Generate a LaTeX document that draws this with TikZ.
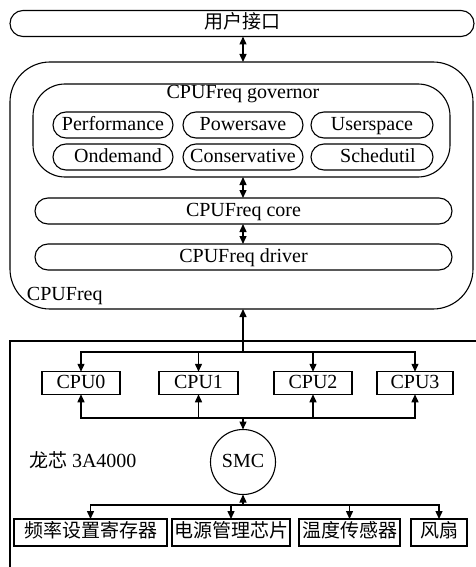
\documentclass[tikz,border=0pt]{standalone}
\usepackage{fontspec}
\setmainfont{Liberation Serif}
\newfontfamily\cjk{Noto Sans CJK SC}
\usetikzlibrary{arrows.meta}
\newcommand\cjkt[1]{{\cjk\fontsize{19}{23}\selectfont #1}}
\begin{document}
\begin{tikzpicture}[x=1pt,y=-1pt,
  every node/.style={inner sep=0pt, outer sep=0pt, font=\fontsize{20}{23}\selectfont, text height=13pt, text depth=3pt},
  box/.style={draw, line width=1.1pt},
  pill/.style={box, rounded corners=13pt, minimum height=26pt},
  conn/.style={line width=1.4pt},
  >={Triangle[length=8pt,width=7pt]}]
\useasboundingbox (0,0) rectangle (475,567);
% top layer
\node[pill, minimum width=464pt] (ui) at (242,23.5) {\cjkt{用户接口}};
\node[box, rounded corners=40pt, minimum width=463pt, minimum height=247pt] (cf) at (241.5,185.5) {};
\node[box, rounded corners=32pt, minimum width=417pt, minimum height=93pt] (gov) at (241.5,130.5) {};
\node[anchor=base] (govl) at (243,99) {CPUFreq governor};
\node[pill, minimum width=120pt] (perf) at (113,125) {Performance};
\node[pill, minimum width=120pt] (pow) at (243,125) {Powersave};
\node[pill, minimum width=122pt] (user) at (372,125) {Userspace};
\node[pill, minimum width=120pt] (ond) at (113,157) {\hspace*{10pt}Ondemand};
\node[pill, minimum width=120pt] (cons) at (243,157) {Conservative};
\node[pill, minimum width=122pt] (sched) at (372,157) {\hspace*{12pt}Schedutil};
\node[pill, minimum width=417pt] (core) at (243.5,211) {CPUFreq core};
\node[pill, minimum width=417pt] (drv) at (243.5,257) {CPUFreq driver};
\node[anchor=base west] (cfl) at (27,300) {CPUFreq};
% lower frame
\coordinate (lr1) at (482,341);
\coordinate (lr2) at (10,341);
\coordinate (lr3) at (10,575);
\draw[box] (lr1) -- (lr2) -- (lr3);
\node[box, minimum width=78pt, minimum height=22.5pt] (c0) at (81,383) {CPU0};
\node[box, minimum width=79pt, minimum height=22.5pt] (c1) at (198.5,383) {CPU1};
\node[box, minimum width=78pt, minimum height=22.5pt] (c2) at (313,383) {CPU2};
\node[box, minimum width=76pt, minimum height=22.5pt] (c3) at (415,383) {CPU3};
\node[box, circle, minimum size=65pt] (smc) at (243,462) {SMC};
\node[anchor=west] (lx) at (29,462) {\cjkt{龙芯} 3A4000};
\node[box, minimum width=153pt, minimum height=27pt] (f1) at (90.5,532.5) {\cjkt{频率设置寄存器}};
\node[box, minimum width=118pt, minimum height=27pt] (f2) at (231,532.5) {\cjkt{电源管理芯片}};
\node[box, minimum width=101pt, minimum height=27pt] (f3) at (349.5,532.5) {\cjkt{温度传感器}};
\node[box, minimum width=56pt, minimum height=27pt] (f4) at (439,532.5) {\cjkt{风扇}};
% connectors
\coordinate (j1) at (243,352);
\coordinate (j2) at (243,418);
\coordinate (j3) at (243,505);
\draw[conn,<->] (j1 |- ui.south) -- (j1 |- cf.north);
\draw[conn,<->] (j1 |- gov.south) -- (j1 |- core.north);
\draw[conn,<->] (j1 |- core.south) -- (j1 |- drv.north);
\draw[conn,->] (j1) -- (j1 |- cf.south);
\draw[conn,->] (j1) -| (c0.north);
\draw[conn,->] (j1) -| (c3.north);
\draw[conn,->] (c1.north |- j1) -- (c1.north);
\draw[conn,->] (c2.north |- j1) -- (c2.north);
\draw[conn,->] (j2) -| (c0.south);
\draw[conn,->] (j2) -| (c3.south);
\draw[conn,->] (c1.south |- j2) -- (c1.south);
\draw[conn,->] (c2.south |- j2) -- (c2.south);
\draw[conn,->] (j2) -- (smc.north);
\draw[conn,->] (j3) -- (smc.south);
\draw[conn,->] (j3) -| (f1.north);
\draw[conn,->] (j3) -| (f4.north);
\draw[conn,->] (f2.north |- j3) -- (f2.north);
\draw[conn,->] (f3.north |- j3) -- (f3.north);
\end{tikzpicture}
\end{document}
